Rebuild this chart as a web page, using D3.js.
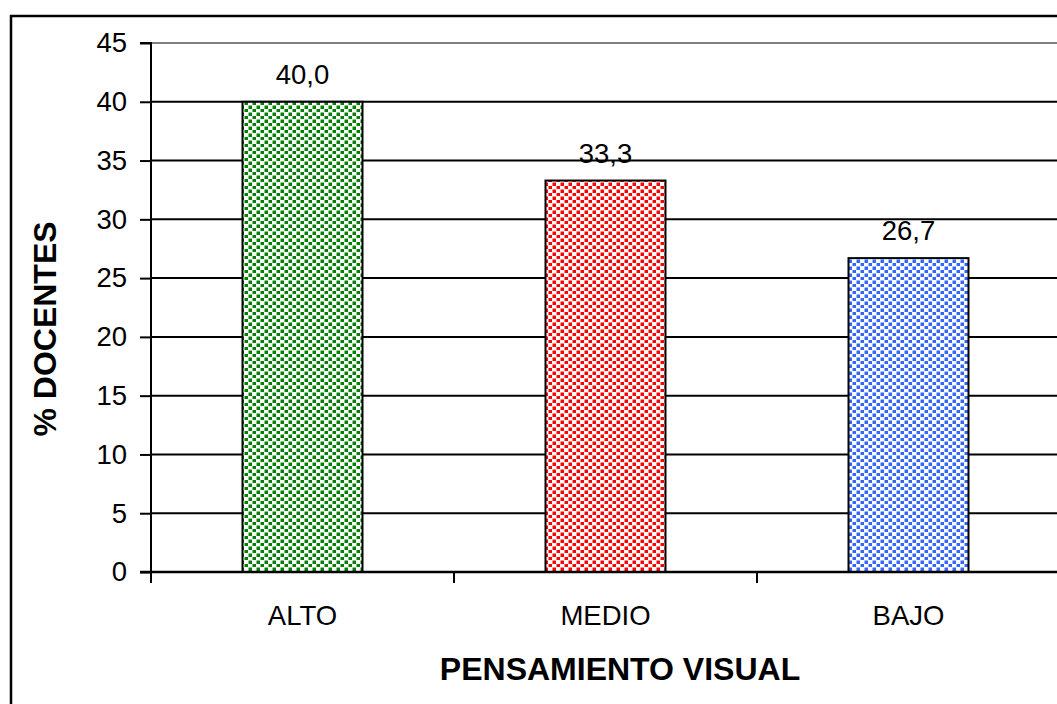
<!DOCTYPE html>
<html><head><meta charset="utf-8">
<script src="https://cdn.jsdelivr.net/npm/d3@7"></script>
<style>body{margin:0;background:#fff}svg{display:block}text{font-family:"Liberation Sans",Arial,sans-serif}</style>
</head><body>
<script>
const categories = ["ALTO", "MEDIO", "BAJO"];
const values = [40.0, 33.3, 26.7];
const labels = ["40,0", "33,3", "26,7"];
const colors = ["#008000", "#ff0000", "#3366ff"];
const yTicks = [0, 5, 10, 15, 20, 25, 30, 35, 40, 45];

(function () {
const W = 1057, H = 704;
const svg = d3.select("body").append("svg").attr("width", W).attr("height", H);
const defs = svg.append("defs");
colors.forEach((c, i) => {
  const p = defs.append("pattern").attr("id", "pat" + i).attr("patternUnits", "userSpaceOnUse")
    .attr("width", 8).attr("height", 7);
  p.append("rect").attr("width", 8).attr("height", 7).attr("fill", "#fff");
  p.append("rect").attr("x", 0.5).attr("y", 0.5).attr("width", 3.5).attr("height", 3.5).attr("fill", c);
  p.append("rect").attr("x", 4.5).attr("y", 4).attr("width", 3.5).attr("height", 3).attr("fill", c);
});

// outer frame
svg.append("rect").attr("x", 11).attr("y", 16).attr("width", W + 20).attr("height", H + 20)
  .attr("fill", "none").attr("stroke", "#000").attr("stroke-width", 2.5);

const pl = 151, pt = 43, pb = 572, pr = 1060;
const x = d3.scaleBand().domain(categories).range([pl, pl + 909]).paddingInner(0.604).paddingOuter(0.302);
const y = d3.scaleLinear().domain([0, 45]).range([pb, pt]);

// gridlines
svg.append("g").selectAll("line").data(yTicks.filter(t => t > 0)).join("line")
  .attr("x1", pl).attr("x2", pr).attr("y1", d => y(d)).attr("y2", d => y(d))
  .attr("stroke", d => d === 45 ? "#808080" : "#000").attr("stroke-width", 2);

// bars
svg.append("g").selectAll("rect").data(values).join("rect")
  .attr("x", (d, i) => x(categories[i])).attr("width", x.bandwidth())
  .attr("y", d => y(d)).attr("height", d => pb - y(d))
  .attr("fill", (d, i) => `url(#pat${i})`).attr("stroke", "#000").attr("stroke-width", 2);

// value labels
svg.append("g").selectAll("text").data(values).join("text")
  .attr("x", (d, i) => x(categories[i]) + x.bandwidth() / 2).attr("y", d => y(d) - 18)
  .attr("text-anchor", "middle").attr("font-size", 27.5).text((d, i) => labels[i]);

// y axis
const ya = svg.append("g").attr("transform", `translate(${pl},0)`)
  .call(d3.axisLeft(y).tickValues(yTicks).tickSize(11).tickPadding(13).tickFormat(d3.format("d")));
ya.select(".domain").attr("stroke", "#000").attr("stroke-width", 2).attr("d", `M-11,${pt}H0V${pb}H-11`);
ya.selectAll(".tick line").attr("stroke", "#000").attr("stroke-width", 2);
ya.selectAll("text").attr("font-size", 27.5).attr("fill", "#000").attr("font-family", "Liberation Sans, Arial, sans-serif");

// x axis
const xa = svg.append("g").attr("transform", `translate(0,${pb})`);
xa.append("line").attr("x1", pl - 11).attr("x2", pr).attr("stroke", "#000").attr("stroke-width", 2.5);
const sep = d3.range(0, 4).map(i => pl + i * x.step());
xa.selectAll("line.sep").data(sep).join("line").attr("class", "sep")
  .attr("x1", d => d).attr("x2", d => d).attr("y1", 0).attr("y2", 11).attr("stroke", "#000").attr("stroke-width", 2);
xa.selectAll("text").data(categories).join("text")
  .attr("x", d => x(d) + x.bandwidth() / 2).attr("y", 53).attr("text-anchor", "middle")
  .attr("font-size", 27.5).text(d => d);

// titles
svg.append("text").attr("x", 620).attr("y", 680).attr("text-anchor", "middle")
  .attr("font-size", 32).attr("font-weight", "bold").text("PENSAMIENTO VISUAL");
svg.append("text").attr("transform", "translate(56,329) rotate(-90)").attr("text-anchor", "middle")
  .attr("font-size", 32).attr("font-weight", "bold").text("% DOCENTES");
})();
</script>
</body></html>
